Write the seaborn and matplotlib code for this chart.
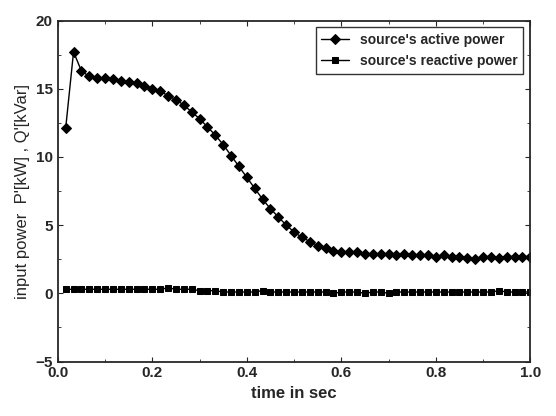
import numpy as np
import pandas as pd
import matplotlib
matplotlib.use("Agg")
import matplotlib.pyplot as plt
import seaborn as sns

sns.set_style("ticks")
plt.rcParams["font.family"] = ["Liberation Sans", "DejaVu Sans"]
plt.rcParams["font.weight"] = "bold"

# ========== data ==========
t = [k / 60 for k in range(1, 61)]
active = [12.1, 17.7, 16.3, 15.9, 15.8, 15.8, 15.7, 15.6, 15.5, 15.4,
          15.2, 15.0, 14.8, 14.5, 14.2, 13.8, 13.3, 12.8, 12.2, 11.6,
          10.9, 10.1, 9.3, 8.5, 7.7, 6.9, 6.2, 5.6, 5.0, 4.5,
          4.1, 3.8, 3.5, 3.3, 3.1, 3.0, 3.0, 3.0, 2.9, 2.9,
          2.9, 2.9, 2.8, 2.9, 2.8, 2.8, 2.8, 2.7, 2.8, 2.7,
          2.7, 2.6, 2.5, 2.7, 2.7, 2.6, 2.7, 2.7, 2.7, 2.7]
reactive = [0.3, 0.3, 0.3, 0.3, 0.3, 0.3, 0.3, 0.3, 0.3, 0.3,
            0.3, 0.3, 0.3, 0.4, 0.3, 0.3, 0.3, 0.2, 0.2, 0.2,
            0.1, 0.1, 0.1, 0.1, 0.1, 0.2, 0.1, 0.1, 0.1, 0.1,
            0.1, 0.1, 0.1, 0.1, 0.0, 0.1, 0.1, 0.1, 0.0, 0.1,
            0.1, 0.0, 0.1, 0.1, 0.1, 0.1, 0.1, 0.1, 0.1, 0.1,
            0.1, 0.1, 0.1, 0.1, 0.1, 0.2, 0.1, 0.1, 0.1, 0.1]

df = pd.DataFrame({"t": t, "active": active, "reactive": reactive})

fig, ax = plt.subplots(figsize=(5.56, 4.16), dpi=100)
sns.lineplot(data=df, x="t", y="active", ax=ax, color="black", lw=1,
             marker="D", markersize=5, markeredgecolor="black",
             label="source's active power")
sns.lineplot(data=df, x="t", y="reactive", ax=ax, color="black", lw=1,
             marker="s", markersize=5, markeredgecolor="black",
             label="source's reactive power")

ax.set_xlim(0, 1.0)
ax.set_ylim(-5, 20)
ax.set_xticks(np.arange(0, 1.01, 0.2))
ax.set_xticks(np.arange(0, 1.01, 0.1), minor=True)
ax.set_yticks(range(-5, 21, 5))
ax.set_yticks(np.arange(-5, 20.1, 2.5), minor=True)
ax.tick_params(direction="in", which="both", top=True, right=True, labelsize=11)
for s in ax.spines.values():
    s.set_linewidth(1.3)
ax.set_xlabel("time in sec", fontsize=12, fontweight="bold")
ax.set_ylabel("input power  P'[kW] , Q'[kVar]", fontsize=12, fontweight="normal")
leg = ax.legend(loc="upper right", frameon=True, fancybox=False, edgecolor="black",
                fontsize=10)
leg.get_frame().set_linewidth(1)

plt.tight_layout()
plt.savefig("out.png", dpi=100)
plt.close()
